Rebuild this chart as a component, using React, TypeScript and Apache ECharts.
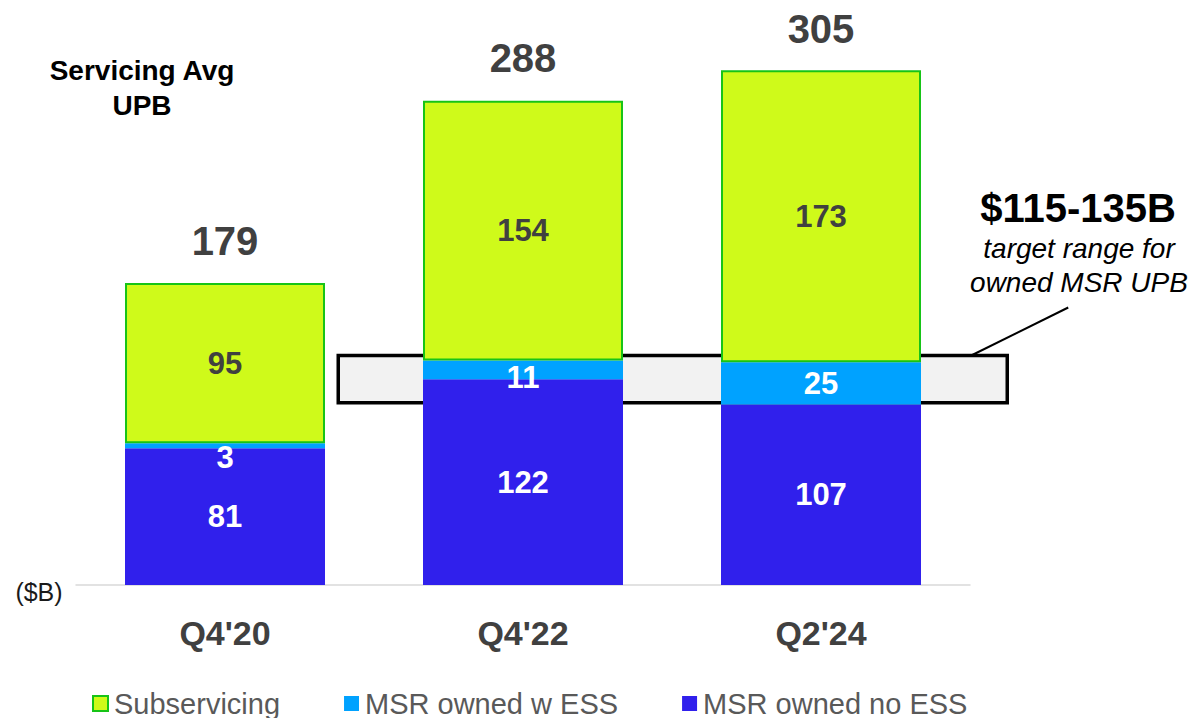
import React, { useEffect, useRef } from "react";
import * as echarts from "echarts";

const categories = ["Q4'20", "Q4'22", "Q2'24"];
const msrNoEss = [81, 122, 107];
const msrWithEss = [3, 11, 25];
const subservicing = [95, 154, 173];
const totals = [179, 288, 305];
// drawn extent of the target box, in $B
const targetBoxLow = 108;
const targetBoxHigh = 136;
const wEssLabelOffsets = [12, 8, 0];

const LIME = "#cffa1a";
const LIME_BORDER = "#17c417";
const LIGHT_BLUE = "#00a2ff";
const DARK_BLUE = "#3020ec";
const FONT = "'Liberation Sans', Arial, sans-serif";

export default function App() {
  const ref = useRef<HTMLDivElement>(null);

  useEffect(() => {
    if (!ref.current) return;
    const chart = echarts.init(ref.current, undefined, { renderer: "svg" });

    const option: any = {
      animation: false,
      backgroundColor: "#ffffff",
      textStyle: { fontFamily: FONT },
      grid: { left: 76, right: 224, top: 45, bottom: 133 },
      legend: {
        left: 92,
        top: 689,
        padding: 0,
        itemWidth: 15,
        itemHeight: 15,
        itemGap: 64,
        icon: "rect",
        data: ["Subservicing", "MSR owned w ESS", "MSR owned no ESS"],
        textStyle: { fontSize: 29, color: "#595959", fontFamily: FONT, padding: [0, 0, 0, 1] },
      },
      xAxis: {
        type: "category",
        data: categories,
        axisLine: { show: true, lineStyle: { color: "#d9d9d9", width: 1.5 } },
        axisTick: { show: false },
        axisLabel: {
          margin: 31,
          fontSize: 34,
          lineHeight: 34,
          fontWeight: "bold",
          color: "#404040",
          fontFamily: FONT,
        },
      },
      yAxis: {
        type: "value",
        min: 0,
        max: 320,
        show: false,
        splitLine: { show: false },
      },
      series: [
        {
          name: "Target",
          type: "custom",
          z: 1,
          clip: false,
          silent: true,
          encode: { x: 0, y: [1, 2] },
          data: [[0, targetBoxHigh, targetBoxLow]],
          renderItem: (params: any, api: any) => {
            const top = api.coord([0, api.value(1)]);
            const bottom = api.coord([2, api.value(2)]);
            const band = api.size([1, 0])[0];
            const x0 = top[0] + band * 0.38;
            const x1 = bottom[0] + band * 0.625;
            const yTop = top[1];
            const yBot = bottom[1];
            return {
              type: "group",
              children: [
                {
                  type: "rect",
                  shape: { x: x0, y: yTop, width: x1 - x0, height: yBot - yTop },
                  style: { fill: "#f2f2f2", stroke: "#000000", lineWidth: 3.5 },
                },
                {
                  type: "line",
                  shape: { x1: x1 - 36, y1: yTop, x2: x1 + 61, y2: yTop - 48 },
                  style: { stroke: "#000000", lineWidth: 2 },
                },
              ],
            };
          },
        },
        {
          name: "MSR owned no ESS",
          type: "bar",
          stack: "upb",
          barWidth: 200,
          z: 3,
          itemStyle: { color: DARK_BLUE },
          label: {
            show: true,
            position: "inside",
            color: "#ffffff",
            fontSize: 31,
            fontWeight: "bold",
            fontFamily: FONT,
          },
          data: msrNoEss,
        },
        {
          name: "MSR owned w ESS",
          type: "bar",
          stack: "upb",
          barWidth: 200,
          z: 3,
          itemStyle: { color: LIGHT_BLUE },
          data: msrWithEss.map((v, i) => ({
            value: v,
            label: {
              show: true,
              position: "inside",
              offset: [0, wEssLabelOffsets[i]],
              color: "#ffffff",
              fontSize: 31,
              fontWeight: "bold",
              fontFamily: FONT,
            },
          })),
        },
        {
          name: "Subservicing",
          type: "bar",
          stack: "upb",
          barWidth: 200,
          z: 3,
          itemStyle: { color: LIME, borderColor: LIME_BORDER, borderWidth: 2 },
          label: {
            show: true,
            position: "inside",
            color: "#404040",
            fontSize: 31,
            fontWeight: "bold",
            fontFamily: FONT,
          },
          data: subservicing,
        },
        {
          name: "Total",
          type: "scatter",
          z: 4,
          symbolSize: 1,
          itemStyle: { color: "rgba(0,0,0,0)", opacity: 1 },
          label: {
            show: true,
            position: "top",
            distance: 21,
            color: "#404040",
            fontSize: 40,
            lineHeight: 40,
            fontWeight: "bold",
            fontFamily: FONT,
          },
          data: totals,
        },
      ],
      graphic: [
        {
          type: "text",
          x: 142,
          y: 88,
          style: {
            text: "Servicing Avg\nUPB",
            fontSize: 28,
            lineHeight: 35,
            fontWeight: "bold",
            fontFamily: FONT,
            fill: "#000000",
            textAlign: "center",
            textVerticalAlign: "middle",
          },
        },
        {
          type: "text",
          x: 39,
          y: 592,
          style: {
            text: "($B)",
            fontSize: 25,
            fontFamily: FONT,
            fill: "#1a1a1a",
            textAlign: "center",
            textVerticalAlign: "middle",
          },
        },
        {
          type: "text",
          x: 1078,
          y: 208,
          style: {
            text: "$115-135B",
            fontSize: 40,
            fontWeight: "bold",
            fontFamily: FONT,
            fill: "#000000",
            textAlign: "center",
            textVerticalAlign: "middle",
          },
        },
        {
          type: "text",
          x: 1079,
          y: 265,
          style: {
            text: "target range for\nowned MSR UPB",
            fontSize: 28,
            lineHeight: 34,
            fontStyle: "italic",
            fontFamily: FONT,
            fill: "#000000",
            textAlign: "center",
            textVerticalAlign: "middle",
          },
        },
      ],
    };

    chart.setOption(option);
    return () => chart.dispose();
  }, []);

  return (
    <div
      ref={ref}
      style={{ position: "fixed", left: 0, top: 0, width: 1194, height: 718 }}
    />
  );
}
